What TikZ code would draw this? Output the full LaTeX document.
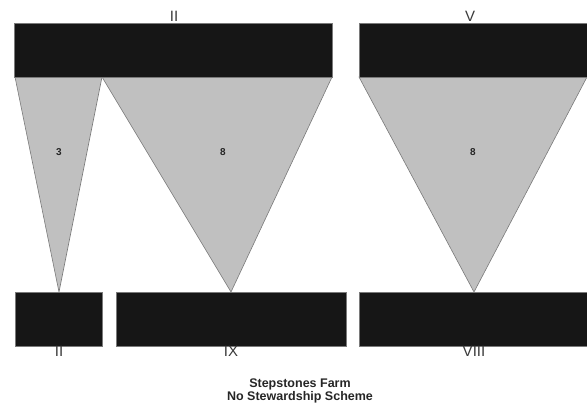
\documentclass[tikz,border=0pt]{standalone}
\usepackage{fontspec}
\setmainfont{Liberation Sans}
\definecolor{barblack}{HTML}{161616}
\definecolor{flowgrey}{HTML}{C0C0C0}
\definecolor{edgegrey}{HTML}{7A7A7A}
\definecolor{labelgrey}{HTML}{3A3A3A}
\tikzset{
  bar/.style={fill=barblack, draw=edgegrey, line width=0.6pt, minimum height=54pt, inner sep=0pt, anchor=north west},
  flow/.style={fill=flowgrey, draw=edgegrey, line width=0.6pt},
  barlabel/.style={font=\fontsize{15}{16}\selectfont, text=labelgrey, inner sep=0pt},
  flowlabel/.style={font=\fontsize{10}{11}\selectfont\bfseries, text=black!85, inner sep=0pt},
  titlelabel/.style={font=\fontsize{12.5}{13}\selectfont\bfseries, text=black!85, align=center, inner sep=0pt}
}
\begin{document}
\begin{tikzpicture}[x=1pt,y=-1pt]
\useasboundingbox (0,0) rectangle (587,412);
% flows
\draw[flow] (15,77) -- (102,77) -- (59,292) -- cycle;
\draw[flow] (102,77) -- (332,77) -- (231,292) -- cycle;
\draw[flow] (359,77) -- (587,77) -- (474,292) -- cycle;
% top bars
\node[bar, minimum width=318pt] (t1) at (14,23) {};
\node[bar, minimum width=228pt] (t2) at (359,23) {};
% bottom bars
\node[bar, minimum width=87pt] (b1) at (15,292) {};
\node[bar, minimum width=230pt] (b2) at (116,292) {};
\node[bar, minimum width=228pt] (b3) at (359,292) {};
% labels
\node[barlabel] (lt1) at (174,16.2) {II};
\node[barlabel] (lt2) at (470,16.2) {V};
\node[barlabel] (lb1) at (59,351.5) {II};
\node[barlabel] (lb2) at (231,351.5) {IX};
\node[barlabel] (lb3) at (474,351.5) {VIII};
\node[flowlabel] (f1) at (59,152) {3};
\node[flowlabel] (f2) at (223,152) {8};
\node[flowlabel] (f3) at (473,152) {8};
\node[titlelabel] (title) at (300,391) {Stepstones Farm\\No Stewardship Scheme};
\end{tikzpicture}
\end{document}
